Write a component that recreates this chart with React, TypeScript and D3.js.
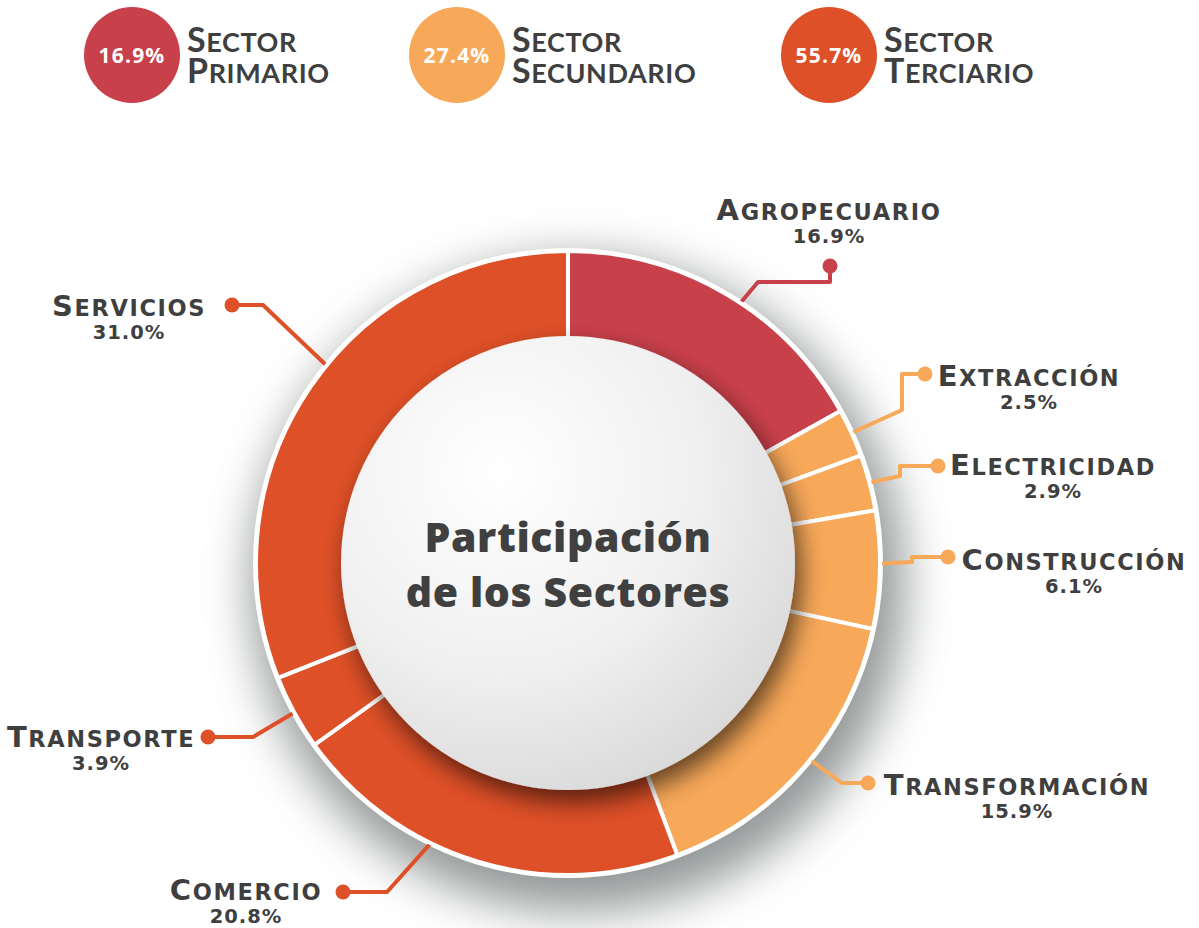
import React from "react";
import * as d3 from "d3";

// ---- data ----
const sectorNames = ["Sector Primario", "Sector Secundario", "Sector Terciario"];
const sectorValues = [16.9, 27.4, 55.7];
const sectorColors = ["#C8404A", "#F7A859", "#DE5028"];

const categories = [
  "Agropecuario",
  "Extracción",
  "Electricidad",
  "Construcción",
  "Transformación",
  "Comercio",
  "Transporte",
  "Servicios",
];
const values = [16.9, 2.5, 2.9, 6.1, 15.9, 20.8, 3.9, 31.0];
const sectorOf = [0, 1, 1, 1, 1, 2, 2, 2];

// ---- layout (annotation placement) ----
const W = 1199;
const H = 928;
const CX = 568;
const CY = 563;
const R_OUT = 312;
const R_IN = 200;
const R_DISC = 227;

type LabelLayout = {
  t: number; // fraction along the slice where the leader starts
  path: [number, number][]; // leader waypoints, last one is the dot
  tx: number;
  ty: number;
};
const labelLayout: LabelLayout[] = [
  { t: 0.55, path: [[758, 282], [830, 282], [830, 266]], tx: 829, ty: 220 },
  { t: 0.5, path: [[902, 410], [902, 374], [925, 374]], tx: 1029, ty: 386 },
  { t: 0.5, path: [[900, 476], [900, 466], [938, 466]], tx: 1053, ty: 475 },
  { t: 0.45, path: [[912, 562], [912, 557], [948, 557]], tx: 1074, ty: 570 },
  { t: 0.47, path: [[842, 783], [868, 783]], tx: 1017, ty: 795 },
  { t: 0.62, path: [[387, 892], [343, 892]], tx: 246, ty: 900 },
  { t: 0.5, path: [[253, 737], [208, 737]], tx: 101, ty: 747 },
  { t: 0.545, path: [[263, 305], [232, 305]], tx: 129, ty: 316 },
];

const legendX = [132, 457, 829];
const TEXT = "#3F3F3F";
const FONT = "'Open Sans', Lato, sans-serif";
const LABEL_FONT = "'DejaVu Sans', 'Open Sans', sans-serif";
const LEGEND_FONT = "Lato, 'Open Sans', sans-serif";

function SmallCaps({
  text,
  x,
  y,
  big,
  small,
  anchor,
  weight,
  spacing,
  font,
}: {
  text: string;
  x: number;
  y: number;
  big: number;
  small: number;
  anchor: string;
  weight: number;
  spacing: number;
  font: string;
}) {
  const words = text.split(" ");
  return (
    <text x={x} y={y} textAnchor={anchor} fontFamily={font} fontWeight={weight} fill={TEXT} letterSpacing={spacing}>
      {words.map((w, i) => (
        <React.Fragment key={i}>
          <tspan fontSize={big}>{(i > 0 ? " " : "") + w[0].toUpperCase()}</tspan>
          <tspan fontSize={small}>{w.slice(1).toUpperCase()}</tspan>
        </React.Fragment>
      ))}
    </text>
  );
}

export default function App() {
  const pie = d3
    .pie<number>()
    .sort(null)
    .value((d) => d)
    .startAngle(0)
    .endAngle(2 * Math.PI);
  const arcs = pie(values);
  const arc = d3.arc<d3.PieArcDatum<number>>().innerRadius(R_IN).outerRadius(R_OUT);
  const line = d3.line();
  const fmt = (v: number) => d3.format(".1f")(v) + "%";

  return (
    <svg
      width={W}
      height={H}
      viewBox={`0 0 ${W} ${H}`}
      style={{ position: "absolute", left: 0, top: 0, background: "#fff" }}
    >
      <defs>
        <filter id="bigShadow" x="-30%" y="-30%" width="160%" height="160%">
          <feGaussianBlur stdDeviation="24" />
        </filter>
        <filter id="discShadow" x="-30%" y="-30%" width="160%" height="160%">
          <feGaussianBlur in="SourceAlpha" stdDeviation="12" />
          <feOffset dx="6" dy="12" result="b" />
          <feComponentTransfer>
            <feFuncA type="linear" slope="0.6" />
          </feComponentTransfer>
          <feMerge>
            <feMergeNode />
            <feMergeNode in="SourceGraphic" />
          </feMerge>
        </filter>
        <radialGradient id="discGrad" cx="35%" cy="30%" r="80%">
          <stop offset="0%" stopColor="#ffffff" />
          <stop offset="55%" stopColor="#f0f0f0" />
          <stop offset="100%" stopColor="#d6d6d6" />
        </radialGradient>
      </defs>

      {/* legend */}
      {sectorNames.map((name, i) => {
        const x = legendX[i];
        return (
          <g key={name}>
            <circle cx={x} cy={55} r={48} fill={sectorColors[i]} />
            <text
              x={x}
              y={63}
              textAnchor="middle"
              fontFamily={FONT}
              fontWeight={700}
              fontSize={21}
              fill="#fff"
              letterSpacing={1.2}
            >
              {fmt(sectorValues[i])}
            </text>
            <SmallCaps text={name.split(" ")[0]} x={x + 55} y={52} big={34} small={27} anchor="start" weight={700} spacing={0.6} font={LEGEND_FONT} />
            <SmallCaps text={name.split(" ")[1]} x={x + 55} y={83} big={34} small={27} anchor="start" weight={700} spacing={0.6} font={LEGEND_FONT} />
          </g>
        );
      })}

      {/* shadow behind ring */}
      <circle cx={CX + 10} cy={CY + 22} r={R_OUT + 14} fill="#6f7475" opacity={0.75} filter="url(#bigShadow)" />
      <circle cx={CX} cy={CY} r={R_OUT + 3} fill="#ffffff" />

      {/* leader lines */}
      {arcs.map((a, i) => {
        const L = labelLayout[i];
        const ang = a.startAngle + L.t * (a.endAngle - a.startAngle);
        const r0 = R_OUT - 4;
        const start: [number, number] = [CX + r0 * Math.sin(ang), CY - r0 * Math.cos(ang)];
        const pts = [start, ...L.path];
        const dot = L.path[L.path.length - 1];
        return (
          <g key={"l" + i}>
            <path d={line(pts) || ""} fill="none" stroke={sectorColors[sectorOf[i]]} strokeWidth={4} strokeLinejoin="round" />
            <circle cx={dot[0]} cy={dot[1]} r={7.5} fill={sectorColors[sectorOf[i]]} />
          </g>
        );
      })}

      {/* ring */}
      <g transform={`translate(${CX},${CY})`}>
        {arcs.map((a, i) => (
          <path key={i} d={arc(a) || ""} fill={sectorColors[sectorOf[i]]} stroke="#fff" strokeWidth={4} />
        ))}
        <circle r={R_DISC} fill="url(#discGrad)" filter="url(#discShadow)" />
      </g>

      {/* center title */}
      <text x={CX} y={552} textAnchor="middle" fontFamily={FONT} fontWeight={800} fontSize={41} fill="#404040" letterSpacing={0.6}>
        Participación
      </text>
      <text x={CX} y={607} textAnchor="middle" fontFamily={FONT} fontWeight={800} fontSize={41} fill="#404040" letterSpacing={0.6}>
        de los Sectores
      </text>

      {/* labels */}
      {categories.map((c, i) => {
        const L = labelLayout[i];
        return (
          <g key={"t" + i}>
            <SmallCaps text={c} x={L.tx} y={L.ty} big={29} small={22.5} anchor="middle" weight={700} spacing={1.6} font={LABEL_FONT} />
            <text
              x={L.tx}
              y={L.ty + 23}
              textAnchor="middle"
              fontFamily={LABEL_FONT}
              fontWeight={700}
              fontSize={19.5}
              fill={TEXT}
              letterSpacing={1}
            >
              {fmt(values[i])}
            </text>
          </g>
        );
      })}
    </svg>
  );
}
